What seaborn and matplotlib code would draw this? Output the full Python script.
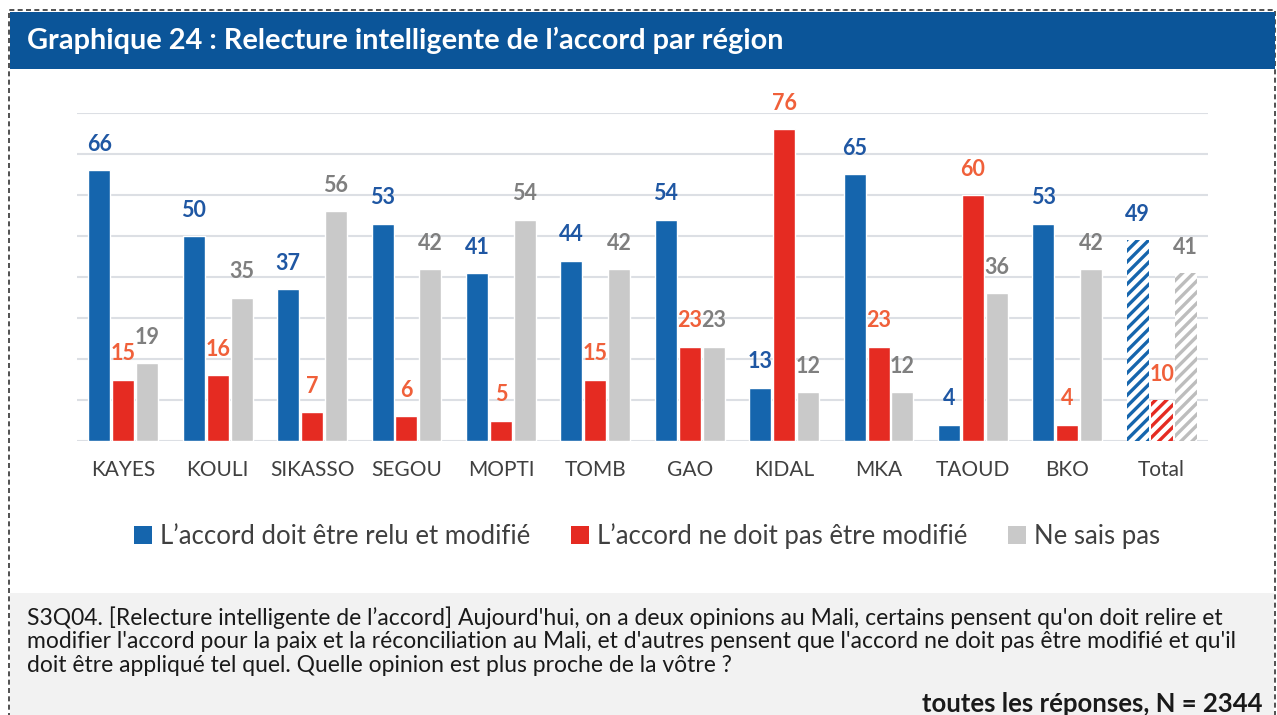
import numpy as np
import pandas as pd
import matplotlib
matplotlib.use('Agg')
import matplotlib.pyplot as plt
from matplotlib.patches import Rectangle, Patch
import seaborn as sns

# Donnees
regions = ['KAYES', 'KOULI', 'SIKASSO', 'SEGOU', 'MOPTI', 'TOMB', 'GAO',
           'KIDAL', 'MKA', 'TAOUD', 'BKO', 'Total']
relu_modifie = [66, 50, 37, 53, 41, 44, 54, 13, 65, 4, 53, 49]
pas_modifie = [15, 16, 7, 6, 5, 15, 23, 76, 23, 60, 4, 10]
ne_sais_pas = [19, 35, 56, 42, 54, 42, 23, 12, 12, 36, 42, 41]
series_names = ['L\u2019accord doit être relu et modifié',
                'L\u2019accord ne doit pas être modifié',
                'Ne sais pas']

bar_colors = ['#1565ad', '#e52b22', '#c9c9c9']
label_colors = ['#1f57a3', '#f0603a', '#7f7f7f']

df = pd.DataFrame({
    'region': regions * 3,
    'pct': relu_modifie + pas_modifie + ne_sais_pas,
    'opinion': np.repeat(series_names, len(regions)),
})

sns.set_theme(style='whitegrid')
plt.rcParams['font.family'] = ['Lato', 'DejaVu Sans']
plt.rcParams['hatch.linewidth'] = 2.4

W, H = 1277, 715
fig = plt.figure(figsize=(W / 100, H / 100), dpi=100)
fig.patch.set_facecolor('white')

def fx(px):
    return px / W

def fy(py):
    return 1 - py / H

# cadre pointille, bandeau titre et fond de la note
fig.add_artist(Rectangle((fx(9), fy(740)), fx(1266), 730 / H, transform=fig.transFigure,
                         fill=False, edgecolor='#333333', linestyle=(0, (3, 2)), lw=1.2))
fig.add_artist(Rectangle((fx(10), fy(69)), fx(1265), 57 / H, transform=fig.transFigure,
                         facecolor='#0b5599', edgecolor='none'))
fig.add_artist(Rectangle((fx(10), fy(715)), fx(1264), 122 / H, transform=fig.transFigure,
                         facecolor='#f2f2f2', edgecolor='none'))
fig.text(fx(27), fy(40), 'Graphique 24 : Relecture intelligente de l\u2019accord par région',
         color='white', fontsize=20.8, fontweight='bold', va='center', ha='left')

ax = fig.add_axes([fx(77), fy(441), fx(1208 - 77), (441 - 113) / H])
sns.barplot(data=df, x='region', y='pct', hue='opinion', palette=bar_colors,
            width=0.76, gap=0.08, ax=ax, legend=False, saturation=1)

ax.set_ylim(0, 80)
ax.set_xlim(-0.49, 11.49)
ax.set_yticks(np.arange(0, 81, 10))
ax.set_yticklabels([])
ax.tick_params(axis='y', length=0)
ax.tick_params(axis='x', length=0, labelsize=15, labelcolor='#404040', pad=14)
ax.grid(axis='y', color='#dcdfe4', lw=1.5)
ax.grid(axis='x', visible=False)
ax.set_xlabel('')
ax.set_ylabel('')
for s in ax.spines.values():
    s.set_visible(False)

# etiquettes de valeur et barres hachurees pour Total
for i, cont in enumerate(ax.containers):
    ax.bar_label(cont, labels=[str(v) for v in [relu_modifie, pas_modifie, ne_sais_pas][i]],
                 padding=11, color=label_colors[i], fontsize=15.5, fontweight='bold',
                 clip_on=False)
    last = cont.patches[-1]
    last.set_facecolor('white')
    last.set_edgecolor(bar_colors[i] if i != 2 else '#bdbdbd')
    last.set_hatch('///')
    last.set_linewidth(0)

handles = [Patch(facecolor=c, edgecolor='none') for c in bar_colors]
fig.legend(handles, series_names, loc='center', bbox_to_anchor=(fx(647), fy(536)),
           ncol=3, frameon=False, fontsize=18.5, labelcolor='#404040',
           handlelength=0.7, handleheight=0.7, handletextpad=0.3, columnspacing=1.6)

note = ("S3Q04. [Relecture intelligente de l\u2019accord] Aujourd'hui, on a deux opinions au Mali, "
        "certains pensent qu'on doit relire et\n"
        "modifier l'accord pour la paix et la réconciliation au Mali, et d'autres pensent que "
        "l'accord ne doit pas être modifié et qu'il\n"
        "doit être appliqué tel quel. Quelle opinion est plus proche de la vôtre ?")
fig.text(fx(27), fy(606), note, fontsize=16.5, color='#1a1a1a', va='top', ha='left',
         linespacing=1.16)
fig.text(fx(1262), fy(704), 'toutes les réponses, N = 2344', fontsize=18.5,
         fontweight='bold', color='#1a1a1a', va='center', ha='right')

fig.savefig('out.png', dpi=100)
